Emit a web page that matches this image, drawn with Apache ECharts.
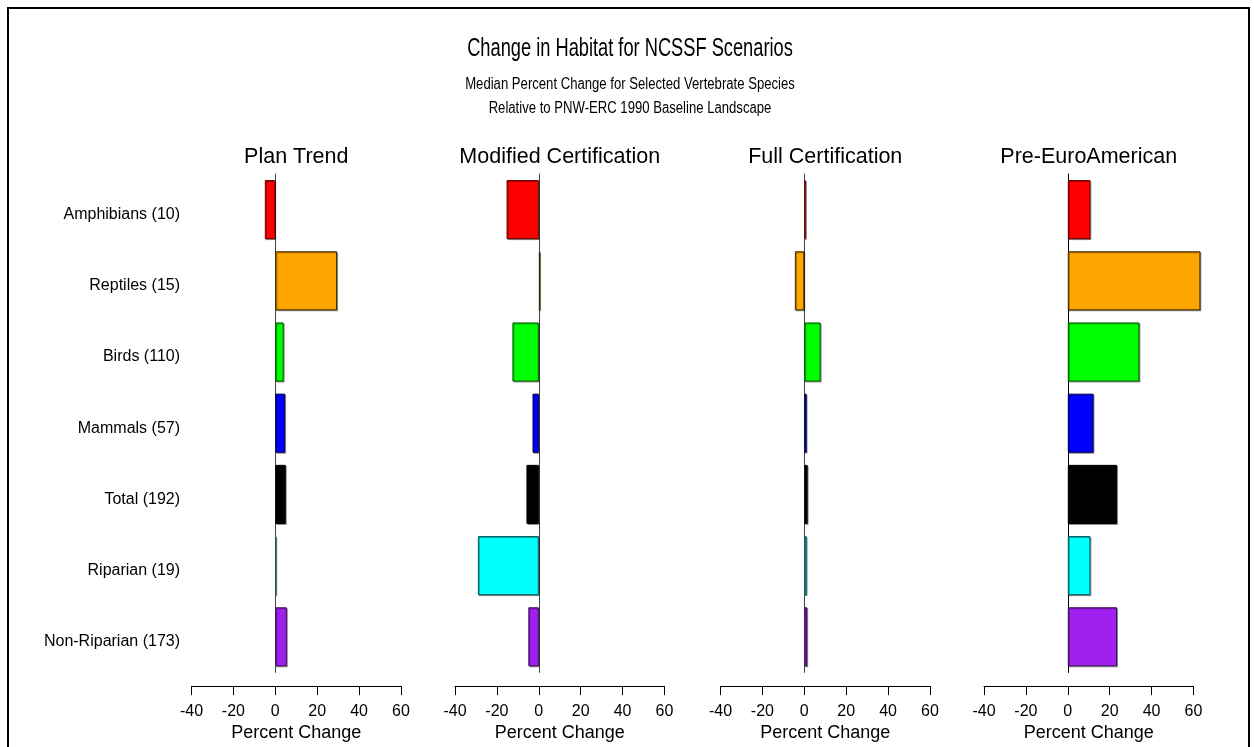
<!DOCTYPE html>
<html>
<head>
<meta charset="utf-8">
<script src="https://cdn.jsdelivr.net/npm/echarts@6/dist/echarts.min.js"></script>
<style>
html,body{margin:0;padding:0;background:#fff;}
#chart{width:1254px;height:747px;}
</style>
</head>
<body>
<div id="chart"></div>
<script>
// ---- data ----
const categories = ['Amphibians (10)', 'Reptiles (15)', 'Birds (110)', 'Mammals (57)', 'Total (192)', 'Riparian (19)', 'Non-Riparian (173)'];
const scenarios = ['Plan Trend', 'Modified Certification', 'Full Certification', 'Pre-EuroAmerican'];
const planTrend = [-5, 29.5, 4, 4.7, 5, 0.3, 5.5];
const modifiedCertification = [-15.4, 0.6, -12.6, -3, -5.9, -29.1, -5];
const fullCertification = [0.7, -4.5, 7.8, 1.1, 1.6, 1.1, 1.4];
const preEuroAmerican = [10.8, 63.3, 34.2, 12.3, 23.5, 10.8, 23.5];
const xTickValues = [-40, -20, 0, 20, 40, 60];
const barColors = ['#ff0000', '#ffa500', '#00ff00', '#0000ff', '#000000', '#00ffff', '#a020f0'];
const borderColors = ['#6b0000', '#3a2600', '#005a00', '#00005a', '#000000', '#005a5a', '#3c0c5a'];
const titleText = 'Change in Habitat for NCSSF Scenarios';
const subtitleLines = ['Median Percent Change for Selected Vertebrate Species', 'Relative to PNW-ERC 1990 Baseline Landscape'];
const axisTitle = 'Percent Change';

const seriesValues = [planTrend, modifiedCertification, fullCertification, preEuroAmerican];

// ---- layout ----
const FONT = 'Liberation Sans, Arial, sans-serif';
const gridLefts = [191.5, 455, 720.5, 984];
const gridWidth = 209.5;
const gridTop = 174;
const gridHeight = 499.3;

const chart = echarts.init(document.getElementById('chart'));

const grids = [], xAxes = [], yAxes = [], series = [], graphics = [];
seriesValues.forEach((vals, i) => {
  grids.push({left: gridLefts[i], top: gridTop, width: gridWidth, height: gridHeight, containLabel: false});
  xAxes.push({
    type: 'value', gridIndex: i, min: xTickValues[0], max: xTickValues[xTickValues.length - 1], interval: 20,
    position: 'bottom', offset: 13.7,
    axisLine: {show: true, onZero: false, lineStyle: {color: '#000', width: 1}},
    axisTick: {show: true, length: 9, inside: false, lineStyle: {color: '#000', width: 1}},
    axisLabel: {show: true, margin: 17, color: '#000', fontSize: 16, fontFamily: FONT},
    splitLine: {show: false},
    name: axisTitle, nameLocation: 'middle', nameGap: 28,
    nameTextStyle: {color: '#000', fontSize: 18, fontFamily: FONT}
  });
  yAxes.push({
    type: 'category', gridIndex: i, data: categories, inverse: true,
    axisLine: {show: true, onZero: true, lineStyle: {color: i === 3 ? '#000' : '#444', width: 1}},
    axisTick: {show: false}, axisLabel: {show: false}, splitLine: {show: false}
  });
  series.push({
    type: 'bar', xAxisIndex: i, yAxisIndex: i, barWidth: '83%', clip: false,
    data: vals.map((v, k) => ({value: v, itemStyle: {
      color: barColors[k], borderColor: borderColors[k], borderWidth: 1,
      shadowColor: 'rgba(0,0,0,0.35)', shadowOffsetX: 1, shadowOffsetY: 1, shadowBlur: 0
    }})),
    silent: true, animation: false
  });
  graphics.push({
    type: 'text', x: gridLefts[i] + gridWidth / 2, y: 157,
    style: {text: scenarios[i], font: '21.5px ' + FONT, fill: '#000', textAlign: 'center', textVerticalAlign: 'middle'}
  });
});
// category labels axis for first panel
yAxes.push({
  type: 'category', gridIndex: 0, data: categories, inverse: true, position: 'left',
  axisLine: {show: false, onZero: false}, axisTick: {show: false},
  axisLabel: {
    show: true, margin: 11.5, formatter: '{c|{value}}',
    rich: {c: {color: '#000', fontSize: 16, fontFamily: FONT, padding: [10, 0, 0, 0]}}
  },
  splitLine: {show: false}
});

graphics.push(
  {type: 'rect', shape: {x: 8, y: 8, width: 1241, height: 760}, style: {fill: 'none', stroke: '#000', lineWidth: 2}, silent: true},
  {type: 'text', x: 630, y: 49, scaleX: 0.73, style: {text: titleText, font: '25px ' + FONT, fill: '#000', textAlign: 'center', textVerticalAlign: 'middle'}},
  {type: 'text', x: 630, y: 85, scaleX: 0.82, style: {text: subtitleLines[0], font: '16px ' + FONT, fill: '#000', textAlign: 'center', textVerticalAlign: 'middle'}},
  {type: 'text', x: 630, y: 109, scaleX: 0.82, style: {text: subtitleLines[1], font: '16px ' + FONT, fill: '#000', textAlign: 'center', textVerticalAlign: 'middle'}}
);

chart.setOption({
  backgroundColor: '#fff',
  animation: false,
  grid: grids,
  xAxis: xAxes,
  yAxis: yAxes,
  series: series,
  graphic: graphics
});
</script>
</body>
</html>
